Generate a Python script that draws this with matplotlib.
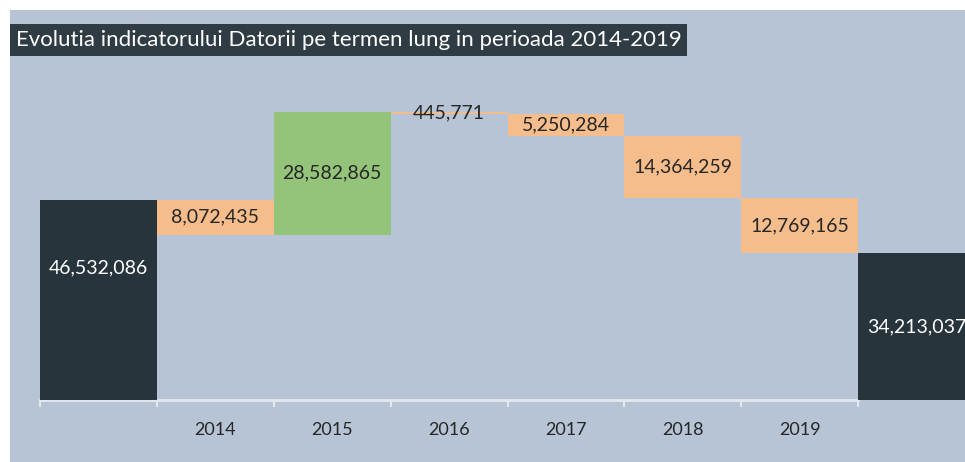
import matplotlib.pyplot as plt
from matplotlib.patches import Rectangle

# Date
categorii = ["", "2014", "2015", "2016", "2017", "2018", "2019", ""]
sold_initial = 46532086
variatii = [-8072435, 28582865, -445771, -5250284, -14364259, -12769165]
sold_final = 34213037
etichete = ["46,532,086", "8,072,435", "28,582,865", "445,771",
            "5,250,284", "14,364,259", "12,769,165", "34,213,037"]

fundal = "#b6c4d6"
inchis = "#27343b"
portocaliu = "#f5bd8b"
verde = "#94c47a"

plt.rcParams['font.family'] = ['Lato', 'DejaVu Sans']

fig = plt.figure(figsize=(9.65, 4.62), dpi=100, facecolor=fundal)

# margini albe de la scanare
fig.patches.append(Rectangle((0, 0), 10 / 965, 1, transform=fig.transFigure,
                             facecolor="white", edgecolor="none", zorder=0))
fig.patches.append(Rectangle((0, 452 / 462), 1, 10 / 462, transform=fig.transFigure,
                             facecolor="white", edgecolor="none", zorder=0))

ax = fig.add_axes([40 / 965, 62 / 462, 935 / 965, 344 / 462])
ax.set_facecolor("none")

# Calcul cascada
baze = [0]
inaltimi = [sold_initial]
culori = [inchis]
nivel = sold_initial
for v in variatii:
    nou = nivel + v
    baze.append(min(nivel, nou))
    inaltimi.append(abs(v))
    culori.append(verde if v > 0 else portocaliu)
    nivel = nou
baze.append(0)
inaltimi.append(sold_final)
culori.append(inchis)

x = list(range(len(categorii)))
ax.bar(x, inaltimi, bottom=baze, width=1.0, color=culori, zorder=3)

# Etichete valori
for i in x:
    mijloc = baze[i] + inaltimi[i] / 2
    if i == 0:
        mijloc = inaltimi[i] * 0.66
    culoare_text = "white" if culori[i] == inchis else "#262626"
    ax.text(i, mijloc, etichete[i], ha="center", va="center",
            fontsize=14, color=culoare_text, zorder=4)

ax.set_xlim(-0.5, 7.5)
ax.set_ylim(0, 80e6)

for s in ["top", "right", "left"]:
    ax.spines[s].set_visible(False)
ax.spines["bottom"].set_bounds(-0.5, 6.5)
ax.spines["bottom"].set_color("#e3e8ee")
ax.spines["bottom"].set_linewidth(2)
ax.spines["bottom"].set_zorder(1)

ax.set_yticks([])
ax.set_xticks(x[1:-1])
ax.set_xticklabels(categorii[1:-1], fontsize=13, color="#262626")
ax.set_xticks([i - 0.5 for i in range(len(categorii))], minor=True)
ax.tick_params(axis="x", which="major", length=0, pad=16)
ax.tick_params(axis="x", which="minor", length=5, width=1.5, color="#e3e8ee")

# Titlu
fig.text(16 / 965, 1 - 40 / 462,
         "Evolutia indicatorului Datorii pe termen lung in perioada 2014-2019",
         fontsize=16, color="white", va="center", ha="left",
         bbox=dict(boxstyle="square,pad=0.25", facecolor="#2f3c44", edgecolor="none"))

fig.savefig("out.png", dpi=100, facecolor=fig.get_facecolor())
